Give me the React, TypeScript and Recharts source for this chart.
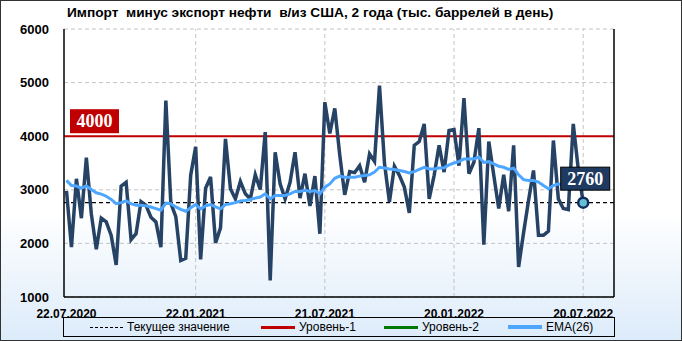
import React from 'react';
import { ComposedChart, Line, XAxis, YAxis, CartesianGrid, ReferenceLine, ReferenceDot } from 'recharts';

// weekly net imports, thousand barrels per day
const imports = [
  2980, 1930, 3205, 2470, 3600, 2550, 1890, 2470, 2400, 2150,
  1600, 3070, 3140, 2070, 2180, 2780, 2710, 2490, 2400, 1930,
  4665, 2750, 2500, 1680, 1720, 3270, 3800, 1700, 3030, 3240,
  2010, 2290, 3950, 3020, 2830, 3155, 2925, 2830, 3280, 3005,
  4075, 1310, 3700, 3110, 2830, 3140, 3700, 2845, 3300, 2700,
  3255, 2180, 4635, 4050, 4520, 3650, 2905, 3340, 3320, 3450,
  3140, 3670, 3530, 4945, 3500, 2770, 3440, 3270, 3050, 2570,
  3830, 3900, 4230, 2830, 3270, 3830, 3330, 4105, 4125, 3450,
  4710, 3300, 3515, 4150, 1975, 3900, 3270, 2650, 3280, 2600,
  3830, 1560, 2200, 2800, 3360, 2150, 2150, 2230, 3920, 2830,
  2650, 2630, 4230, 3390, 2760,
];

const ema26 = [
  3175, 3080, 3070, 3030, 3070, 3005, 2945, 2920, 2880, 2820,
  2740, 2760, 2795, 2740, 2710, 2710, 2700, 2680, 2650, 2620,
  2750, 2740, 2680, 2635, 2600, 2665, 2725, 2645, 2700, 2725,
  2680, 2645, 2725, 2740, 2760, 2790, 2800, 2820, 2845, 2865,
  2925, 2830, 2895, 2895, 2895, 2925, 2970, 2970, 2990, 2970,
  2985, 2925, 3050, 3110, 3215, 3255, 3235, 3235, 3235, 3255,
  3265, 3280, 3330, 3420, 3405, 3390, 3380, 3360, 3340, 3315,
  3340, 3380, 3420, 3390, 3390, 3405, 3410, 3465, 3500, 3525,
  3575, 3575, 3575, 3610, 3510, 3525, 3485, 3440, 3420, 3380,
  3405, 3280, 3190, 3175, 3175, 3145, 3080, 3020, 3080, 3110,
  3090, 3070, 3150, 3170, 3130,
];

const tickWeeks = [0, 26, 52, 78, 104];
const tickLabels = ['22.07.2020', '22.01.2021', '21.07.2021', '20.01.2022', '20.07.2022'];
const yTicks = [1000, 2000, 3000, 4000, 5000, 6000];
const level1 = 4000;
const currentValue = 2760;

const data = imports.map((v, i) => ({ week: i, value: v, ema: ema26[i] }));
const lastWeek = imports.length - 1;

const LINE = '#264366';
const EMA = '#4DA6FF';
const RED = '#C00000';
const GREEN = '#007A00';
const FONT = '"Liberation Sans", Arial, sans-serif';

function LevelTag(props: any) {
  const { viewBox } = props;
  const x = viewBox.x + 6;
  const y = viewBox.y - 27;
  return (
    <g>
      <rect x={x} y={y} width={49} height={24} fill={RED} />
      <text x={x + 24.5} y={y + 18} textAnchor="middle" fill="#fff" fontFamily='"Liberation Serif", serif' fontWeight="bold" fontSize={18}>
        {level1}
      </text>
    </g>
  );
}

function CurrentTag(props: any) {
  const { viewBox } = props;
  const cx = viewBox.x + viewBox.width / 2;
  const cy = viewBox.y + viewBox.height / 2;
  const x = cx - 22.5;
  const y = cy - 35.5;
  return (
    <g>
      <rect x={x} y={y} width={49} height={23} fill="#1F3A60" stroke="#000" strokeWidth={1} />
      <text x={x + 24.5} y={y + 17.5} textAnchor="middle" fill="#fff" fontFamily='"Liberation Serif", serif' fontWeight="bold" fontSize={18}>
        {currentValue}
      </text>
    </g>
  );
}

function LegendBox() {
  const item = (left: number, sample: React.ReactNode, label: string) => (
    <div style={{ position: 'absolute', left, top: 0, height: 18, display: 'flex', alignItems: 'center' }}>
      {sample}
      <span style={{ marginLeft: 4 }}>{label}</span>
    </div>
  );
  const bar = (color: string, h: number) => <div style={{ width: 34, height: h, background: color }} />;
  return (
    <div
      style={{
        position: 'absolute', left: 63, top: 317, width: 550, height: 18,
        border: '1px solid #000', fontFamily: FONT, fontSize: 12, color: '#000',
      }}
    >
      {item(26, <div style={{ width: 33, borderTop: '1.5px dashed #000' }} />, 'Текущее значение')}
      {item(197, bar(RED, 3), 'Уровень-1')}
      {item(320, bar(GREEN, 3), 'Уровень-2')}
      {item(444, bar(EMA, 4), 'EMA(26)')}
    </div>
  );
}

export default function App() {
  return (
    <div
      style={{
        position: 'relative',
        width: 682,
        height: 341,
        background: 'linear-gradient(to bottom, #ffffff 0%, #ffffff 62%, #dcebfa 100%)',
        boxShadow: 'inset 0 0 0 1px #333',
        fontFamily: FONT,
      }}
    >
      <style>{'body{margin:0}'}</style>
      <div style={{ position: 'absolute', left: 67, top: 5, fontSize: 13.7, fontWeight: 'bold', color: '#000', whiteSpace: 'pre' }}>
        {'Импорт  минус экспорт нефти  в/из США, 2 года (тыс. баррелей в день)'}
      </div>
      <ComposedChart width={682} height={341} data={data} margin={{ top: 29, right: 0, bottom: 24, left: 0 }}>
        <CartesianGrid yAxisId="left" vertical={false} stroke="#c4c4c4" strokeDasharray="4 3" />
        <XAxis
          dataKey="week"
          type="number"
          domain={[-0.5, 110.2]}
          ticks={tickWeeks}
          tickFormatter={(w: number) => tickLabels[tickWeeks.indexOf(w)]}
          interval={0}
          height={20}
          tickLine={false}
          tickMargin={6}
          axisLine={{ stroke: '#000', strokeWidth: 1.5 }}
          tick={{ fill: '#000', fontSize: 12, fontWeight: 'bold', fontFamily: FONT }}
        />
        <YAxis
          yAxisId="left"
          domain={[1000, 6000]}
          ticks={yTicks}
          width={64}
          tickLine={false}
          tickMargin={9}
          axisLine={{ stroke: '#000', strokeWidth: 1.5 }}
          tick={{ fill: '#000', fontSize: 13, fontWeight: 'bold', fontFamily: FONT }}
        />
        <YAxis
          yAxisId="right"
          orientation="right"
          domain={[1000, 6000]}
          ticks={yTicks}
          width={68}
          tickLine={false}
          tickMargin={14}
          axisLine={{ stroke: '#000', strokeWidth: 1.5 }}
          tick={{ fill: '#000', fontSize: 13, fontWeight: 'bold', fontFamily: FONT, textAnchor: 'start' }}
        />
        {tickWeeks.slice(1).map((w) => (
          <ReferenceLine key={w} yAxisId="left" x={w} stroke="#c4c4c4" strokeDasharray="4 3" />
        ))}
        <ReferenceLine yAxisId="left" y={currentValue} stroke="#000" strokeDasharray="4 3" strokeWidth={1.2} />
        <ReferenceLine yAxisId="left" y={level1} stroke={RED} strokeWidth={2} label={<LevelTag />} />
        <Line yAxisId="left" type="linear" dataKey="value" stroke={LINE} strokeWidth={3.5} dot={false} isAnimationActive={false} />
        <Line yAxisId="left" type="linear" dataKey="ema" stroke={EMA} strokeWidth={3} dot={false} isAnimationActive={false} />
        <ReferenceDot
          yAxisId="left"
          x={lastWeek}
          y={currentValue}
          r={5}
          fill="#67BFD3"
          stroke="#0E2D5E"
          strokeWidth={2.5}
          label={<CurrentTag />}
        />
      </ComposedChart>
      <LegendBox />
    </div>
  );
}
